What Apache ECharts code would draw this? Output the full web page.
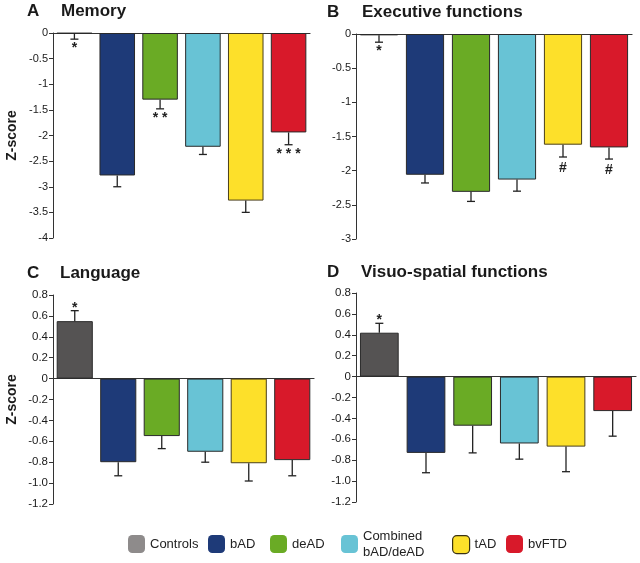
<!DOCTYPE html>
<html>
<head>
<meta charset="utf-8">
<script src="https://cdn.jsdelivr.net/npm/echarts@6/dist/echarts.min.js"></script>
<style>
html,body{margin:0;padding:0;background:#fff;}
#chart{width:640px;height:563px;}
</style>
</head>
<body>
<div id="chart"></div>
<script>
// ---- Data ----
var groups = ['Controls', 'bAD', 'deAD', 'Combined\nbAD/deAD', 'tAD', 'bvFTD'];

var memory      = [-0.01, -2.78, -1.30, -2.22, -3.27, -1.94];
var memoryErr   = [ 0.11,  0.22,  0.18,  0.15,  0.23,  0.24];
var memorySig   = ['*', '', '* *', '', '', '* * *'];

var executive    = [-0.02, -2.06, -2.31, -2.13, -1.62, -1.66];
var executiveErr = [ 0.10,  0.12,  0.14,  0.17,  0.18,  0.17];
var executiveSig = ['*', '', '', '', '#', '#'];

var language    = [0.55, -0.80, -0.55, -0.70, -0.81, -0.78];
var languageErr = [0.10,  0.13,  0.12,  0.10,  0.17,  0.15];
var languageSig = ['*', '', '', '', '', ''];

var visuo    = [0.42, -0.73, -0.47, -0.64, -0.67, -0.33];
var visuoErr = [0.09,  0.19,  0.26,  0.15,  0.24,  0.24];
var visuoSig = ['*', '', '', '', '', ''];

var panelTitles  = ['Memory', 'Executive functions', 'Language', 'Visuo-spatial functions'];
var panelLetters = ['A', 'B', 'C', 'D'];

// ---- Styling ----
var barColors    = ['#555353', '#1e3a78', '#6aab25', '#68c3d5', '#fde02a', '#d8192a'];
var legendColors = ['#8e8b8b', '#1e3a78', '#6aab25', '#68c3d5', '#fde02a', '#d8192a'];
var FONT = 'Arial, "Liberation Sans", Helvetica, sans-serif';
var INK = '#1a1a1a';

var panels = [
  {vals: memory, err: memoryErr, sig: memorySig, min: -4, max: 0, interval: 0.5,
   grid: {left: 53, top: 33, width: 257, height: 205}, yName: 'Z-score', fmt: null},
  {vals: executive, err: executiveErr, sig: executiveSig, min: -3, max: 0, interval: 0.5,
   grid: {left: 356, top: 34, width: 276, height: 205}, yName: '', fmt: null},
  {vals: language, err: languageErr, sig: languageSig, min: -1.2, max: 0.8, interval: 0.2,
   grid: {left: 53, top: 295, width: 261, height: 209}, yName: 'Z-score', fmt: 'one'},
  {vals: visuo, err: visuoErr, sig: visuoSig, min: -1.2, max: 0.8, interval: 0.2,
   grid: {left: 356, top: 293, width: 280, height: 209}, yName: '', fmt: 'one'}
];

var titlePos = [
  {letter: [27, 3], name: [61, 3]},
  {letter: [327, 4], name: [362, 4]},
  {letter: [27, 265], name: [60, 265]},
  {letter: [327, 264], name: [361, 264]}
];

var grids = [], xAxes = [], yAxes = [], series = [], titles = [];

panels.forEach(function (p, pi) {
  grids.push({left: p.grid.left, top: p.grid.top, width: p.grid.width, height: p.grid.height, containLabel: false});
  xAxes.push({
    type: 'category', gridIndex: pi, data: groups,
    axisLine: {show: true, onZero: true, lineStyle: {color: '#333', width: 1.2}},
    axisTick: {show: false}, axisLabel: {show: false}, splitLine: {show: false}
  });
  yAxes.push({
    type: 'value', gridIndex: pi, min: p.min, max: p.max, interval: p.interval,
    axisLine: {show: true, lineStyle: {color: '#333', width: 1}},
    axisTick: {show: true, length: 4, lineStyle: {color: '#333'}},
    splitLine: {show: false},
    axisLabel: {
      color: INK, fontFamily: FONT, fontSize: p.fmt === 'one' ? 11.5 : 11, margin: 5,
      formatter: function (v) {
        if (Math.abs(v) < 1e-9) return '0';
        if (p.fmt === 'one') return v.toFixed(1);
        return String(Math.round(v * 10) / 10);
      }
    },
    name: p.yName, nameLocation: 'middle', nameGap: 34, nameRotate: 90,
    nameTextStyle: {color: INK, fontFamily: FONT, fontSize: 14, fontWeight: 'bold'}
  });

  groups.forEach(function (g, gi) {
    var d = groups.map(function (_, k) { return k === gi ? p.vals[k] : '-'; });
    series.push({
      type: 'bar', name: g, xAxisIndex: pi, yAxisIndex: pi,
      data: d, barWidth: '83%', barGap: '-100%',
      itemStyle: {color: barColors[gi], borderColor: gi === 4 ? '#4a3f1a' : '#2a2a2a', borderWidth: 1},
      emphasis: {disabled: true}, animation: false
    });
  });

  series.push({
    type: 'custom', name: 'err' + pi, xAxisIndex: pi, yAxisIndex: pi, z: 5,
    animation: false, silent: true,
    data: p.vals.map(function (v, k) { return [k, v, p.err[k]]; }),
    renderItem: function (params, api) {
      var i = api.value(0), v = api.value(1), e = api.value(2);
      var end = v < 0 ? v - e : v + e;
      var a = api.coord([i, v]);
      var b = api.coord([i, end]);
      var cap = 4;
      var children = [
        {type: 'line', shape: {x1: a[0], y1: a[1], x2: b[0], y2: b[1]}, style: {stroke: '#222', lineWidth: 1.3}},
        {type: 'line', shape: {x1: b[0] - cap, y1: b[1], x2: b[0] + cap, y2: b[1]}, style: {stroke: '#222', lineWidth: 1.3}}
      ];
      var s = p.sig[params.dataIndex];
      if (s) {
        var below = v < 0;
        var isHash = s === '#';
        children.push({
          type: 'text',
          style: {
            text: s, x: b[0], y: below ? b[1] + (isHash ? 4 : 2) : b[1] + 4,
            align: 'center', verticalAlign: below ? 'top' : 'bottom',
            font: 'bold 14px ' + FONT, fill: '#222'
          }
        });
      }
      return {type: 'group', children: children};
    }
  });

  titles.push({text: panelLetters[pi], left: titlePos[pi].letter[0], top: titlePos[pi].letter[1], padding: 0,
    textStyle: {fontFamily: FONT, fontSize: 17, fontWeight: 'bold', color: INK}});
  titles.push({text: panelTitles[pi], left: titlePos[pi].name[0], top: titlePos[pi].name[1], padding: 0,
    textStyle: {fontFamily: FONT, fontSize: 17, fontWeight: 'bold', color: INK}});
});

var legendLeft = [128, 208, 270, 341, 452, 506];
var legendTop  = [535, 535, 535, 528, 535, 535];
var legends = groups.map(function (g, gi) {
  return {
    left: legendLeft[gi], top: legendTop[gi], padding: 0, itemWidth: 17, itemHeight: 18,
    icon: 'roundRect', selectedMode: false,
    data: [{name: g, itemStyle: {color: legendColors[gi], borderColor: gi === 4 ? '#3a3214' : legendColors[gi], borderWidth: gi === 4 ? 1.2 : 0}}],
    textStyle: {fontFamily: FONT, fontSize: 13, color: '#222', lineHeight: 16}
  };
});

var chart = echarts.init(document.getElementById('chart'), null, {renderer: 'canvas'});
chart.setOption({
  backgroundColor: '#ffffff',
  animation: false,
  title: titles,
  legend: legends,
  grid: grids,
  xAxis: xAxes,
  yAxis: yAxes,
  series: series
});
</script>
</body>
</html>
